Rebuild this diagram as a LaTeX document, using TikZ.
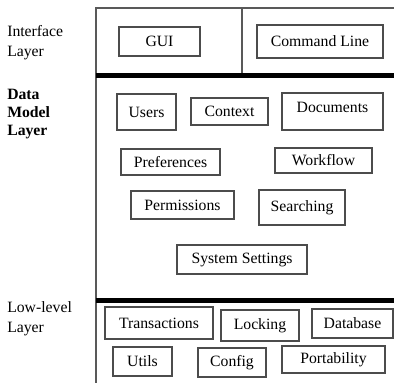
\documentclass[tikz,border=0pt]{standalone}
\usepackage{fontspec}
\setmainfont{Liberation Serif}

\tikzset{
  blk/.style={draw=black!70, line width=0.9pt},
  frame/.style={draw=black!65, line width=0.8pt},
  sep/.style={draw=black, line width=3.4pt},
  lay/.style={anchor=west, align=left, inner sep=0pt},
}

\begin{document}
\begin{tikzpicture}[x=0.75pt, y=-0.75pt, font=\fontsize{11.8}{15}\selectfont]

  \useasboundingbox (0,0) rectangle (394,383);

  % layer names
  \node[lay] (ifl) at (7,43) {Interface\\Layer};
  \node[lay, font=\fontsize{11.8}{13.5}\selectfont\bfseries] (dml) at (7,114) {Data\\Model\\Layer};
  \node[lay] (lll) at (7,319) {Low-level\\Layer};

  % frame and layer separators
  \draw[frame] (394,8) -- (96,8) -- (96,383);
  \draw[frame] (242,8) -- (242,73);
  \draw[sep] (96,75.5) -- (394,75.5);
  \draw[sep] (96,300.5) -- (394,300.5);

  % interface layer
  \draw[blk] (119,27) rectangle node (gui) {GUI} (200,56);
  \draw[blk] (257,25) rectangle node (cmd) {Command Line} (383,58);

  % data model layer
  \draw[blk] (117,94) rectangle node (users) {Users} (176,130);
  \draw[blk] (191,98) rectangle node (ctx) {Context} (268,125);
  \draw[blk] (282,93) rectangle node[yshift=3] (docs) {Documents} (383,130);
  \draw[blk] (121,149) rectangle node (prefs) {Preferences} (220,175);
  \draw[blk] (275,148) rectangle node (wflow) {Workflow} (372,173);
  \draw[blk] (131,191) rectangle node (perms) {Permissions} (234,219);
  \draw[blk] (259,190) rectangle node (search) {Searching} (345,225);
  \draw[blk] (177,245) rectangle node (sys) {System Settings} (307,274);

  % low-level layer
  \draw[blk] (105,307) rectangle node (trans) {Transactions} (213,339);
  \draw[blk] (221,310) rectangle node (lock) {Locking} (299,341);
  \draw[blk] (312,309) rectangle node (db) {Database} (393,338);
  \draw[blk] (113,347) rectangle node (utils) {Utils} (172,376);
  \draw[blk] (198,348) rectangle node (conf) {Config} (266,377);
  \draw[blk] (282,346) rectangle node (port) {Portability} (385,373);

\end{tikzpicture}
\end{document}
